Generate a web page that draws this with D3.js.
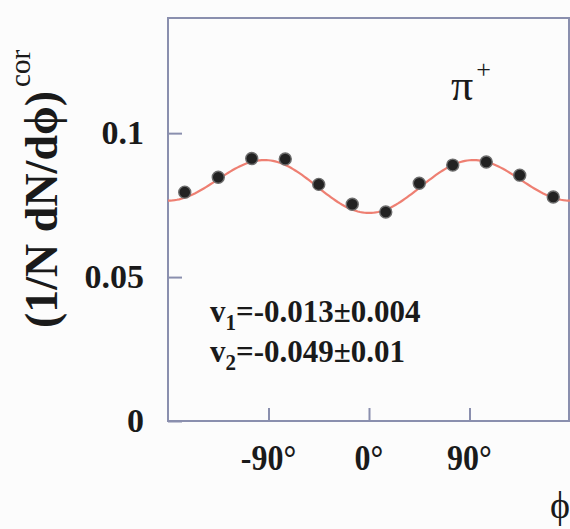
<!DOCTYPE html>
<html>
<head>
<meta charset="utf-8">
<script src="https://cdn.jsdelivr.net/npm/d3@7"></script>
<style>
  html, body { margin: 0; padding: 0; background: #fcfcfc; }
  svg { display: block; }
  text { font-family: "Liberation Serif", "DejaVu Serif", serif; fill: #1a1a1a; }
</style>
</head>
<body>
<svg id="chart" width="570" height="529"></svg>
<script>
// Azimuthal distribution of pi+ (corrected), 30-degree bins
const phiBins = [-165, -135, -105, -75, -45, -15, 15, 45, 75, 105, 135, 165];
const yieldValues = [0.0795, 0.0847, 0.0912, 0.0910, 0.0822, 0.0753, 0.0726, 0.0826, 0.0889, 0.0900, 0.0854, 0.0778];

// Fourier fit: A * (1 + 2 v1 cos(phi) + 2 v2 cos(2 phi))
const fitV1 = -0.013, fitV1Err = 0.004;
const fitV2 = -0.049, fitV2Err = 0.01;
const fitNorm = 0.0825;

const xTickValues = [-90, 0, 90];
const xTickLabels = ["-90°", "0°", "90°"];
const yTickValues = [0, 0.05, 0.1];
const yTickLabels = ["0", "0.05", "0.1"];

const svg = d3.select("#chart");
const plotLeft = 168, plotRight = 570, plotTop = 18, plotBottom = 421;

const x = d3.scaleLinear().domain([-180, 180]).range([plotLeft, plotRight]);
const y = d3.scaleLinear().domain([0, 0.14]).range([plotBottom, plotTop]);

// frame
const frameColor = "#8a8fae";
svg.append("rect")
  .attr("x", plotLeft).attr("y", plotTop)
  .attr("width", plotRight - 1 - plotLeft).attr("height", plotBottom - plotTop)
  .attr("fill", "none").attr("stroke", frameColor).attr("stroke-width", 2);

// x axis ticks (inward) and labels
const xAxis = d3.axisBottom(x).tickValues(xTickValues).tickSize(-13).tickFormat("");
svg.append("g").attr("transform", `translate(0,${plotBottom})`).call(xAxis)
  .call(g => g.select(".domain").remove())
  .call(g => g.selectAll("line").attr("stroke", frameColor).attr("stroke-width", 2));

svg.append("g").selectAll("text").data(xTickValues).join("text")
  .attr("transform", d => `translate(${x(d)},470) scale(1,1.1)`)
  .attr("text-anchor", "middle")
  .attr("font-size", 32).attr("font-weight", "bold")
  .text((d, i) => xTickLabels[i]);

// y axis ticks (inward) and labels
const yAxis = d3.axisLeft(y).tickValues(yTickValues).tickSize(-14).tickFormat("");
svg.append("g").attr("transform", `translate(${plotLeft},0)`).call(yAxis)
  .call(g => g.select(".domain").remove())
  .call(g => g.selectAll("line").attr("stroke", frameColor).attr("stroke-width", 2));

svg.append("g").selectAll("text").data(yTickValues).join("text")
  .attr("x", 144)
  .attr("y", d => y(d) + 11)
  .attr("text-anchor", "end")
  .attr("font-size", 34).attr("font-weight", "bold")
  .text((d, i) => yTickLabels[i]);

// fit curve
const curvePhi = d3.range(-180, 180.5, 2);
const fit = p => {
  const r = p * Math.PI / 180;
  return fitNorm * (1 + 2 * fitV1 * Math.cos(r) + 2 * fitV2 * Math.cos(2 * r));
};
svg.append("path")
  .datum(curvePhi)
  .attr("fill", "none")
  .attr("stroke", "#ee7f72")
  .attr("stroke-width", 2.2)
  .attr("d", d3.line().x(p => x(p)).y(p => y(fit(p))));

// data points
svg.append("g").selectAll("circle").data(phiBins).join("circle")
  .attr("cx", d => x(d))
  .attr("cy", (d, i) => y(yieldValues[i]))
  .attr("r", 6)
  .attr("fill", "#222")
  .attr("stroke", "#6d6d6d")
  .attr("stroke-width", 1.4);

// particle label
const pl = svg.append("text")
  .attr("transform", "translate(451,100)")
  .attr("font-size", 44);
pl.append("tspan").text("π");
pl.append("tspan").attr("font-size", 26).attr("dy", -22).attr("dx", 3).text("+");

// fit parameter annotations
function paramLine(yPos, sub, value) {
  const t = svg.append("text")
    .attr("transform", `translate(210,${yPos}) scale(1,1.05)`)
    .attr("font-size", 31).attr("font-weight", "bold");
  t.append("tspan").text("v");
  t.append("tspan").attr("font-size", 21).attr("dy", 8).text(sub);
  t.append("tspan").attr("dy", -8).text("=" + value);
}
paramLine(322, "1", `${fitV1.toFixed(3)}±${fitV1Err.toFixed(3)}`);
paramLine(362, "2", `${fitV2.toFixed(3)}±${fitV2Err}`);

// y axis title
const yt = svg.append("text")
  .attr("transform", "translate(57,328) rotate(-90)")
  .attr("font-size", 46).attr("font-weight", "bold");
yt.append("tspan").text("(1/N dN/dϕ)");
yt.append("tspan").attr("font-size", 29).attr("font-weight", "normal").attr("dy", -27).attr("dx", 4).text("cor");

// x axis title
svg.append("text")
  .attr("x", 560).attr("y", 518)
  .attr("text-anchor", "middle")
  .attr("font-size", 38)
  .text("ϕ");
</script>
</body>
</html>
